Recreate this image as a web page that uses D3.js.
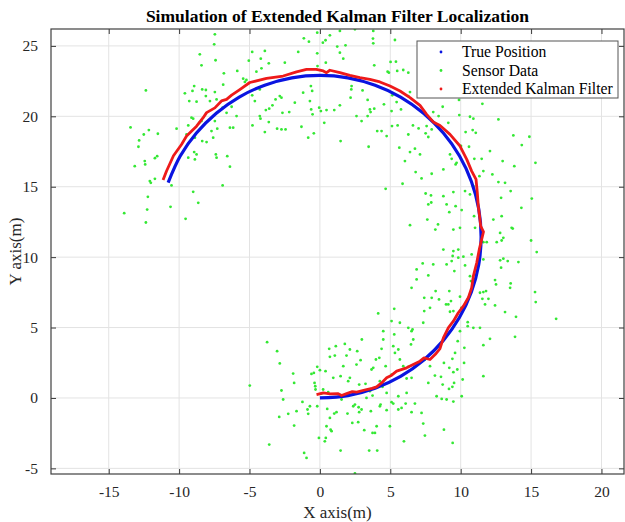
<!DOCTYPE html>
<html lang="en">
  <head>
    <meta charset="utf-8">
    <title>EKF Localization</title>
    <script src="https://cdn.jsdelivr.net/npm/d3@7"></script>
    <style>
    body{margin:0;background:#fff;}
    svg text{font-family:"Liberation Serif","Times New Roman",serif;fill:#262626;}
    .grid line{stroke:#e3e3e3;stroke-width:1;}
    .axis path{display:none;}
    .axis line{stroke:#3a3a3a;}
    .axis text{font-size:15.5px;fill:#262626;}
    </style>
  </head>
  <body>
    <svg></svg>
    <script>
      var xTicks=[-15,-10,-5,0,5,10,15,20];
      var yTicks=[-5,0,5,10,15,20,25];
      var legendLabels=["True Position","Sensor Data","Extended Kalman Filter"];

      // true path
      var truePos=[[0,0],[1.99,0.17],[3.92,0.69],[5.73,1.53],[7.36,2.68],[8.77,4.09],[9.92,5.73],
        [10.76,7.53],[11.28,9.46],[11.45,11.45],[11.28,13.44],[10.76,15.37],[9.92,17.18],[8.77,18.81],
        [7.36,20.22],[5.73,21.37],[3.92,22.21],[1.99,22.73],[0,22.9],[-1.99,22.73],[-3.92,22.21],
        [-5.73,21.37],[-7.36,20.22],[-8.77,18.81],[-9.92,17.18],[-10.78,15.29]];

      var ekfPos=[[-0.24,0.24],[0.24,0.36],[0.71,0.29],[1.3,0.31],[1.54,0.17],[1.9,0.31],[2.3,0.45],[2.61,0.41],
        [3.32,0.6],[3.7,0.68],[4.03,0.79],[4.38,1.07],[4.74,1.43],[5.1,1.62],[5.45,1.9],[6.16,2.14],[6.63,2.37],
        [7.11,2.61],[7.4,2.85],[7.82,2.73],[8.2,3.1],[8.53,3.5],[8.77,4.27],[9.12,4.98],[9.48,5.45],[9.83,6.05],
        [10.19,6.52],[10.54,7.11],[10.78,7.83],[10.9,8.65],[11.14,9.6],[11.32,10.55],[11.49,11.26],[11.62,11.8],
        [11.42,12.2],[11.37,12.68],[11.25,13.62],[11.18,14.58],[11.09,15.52],[10.78,16.11],[10.43,16.94],
        [9.95,17.89],[9.24,18.72],[8.53,19.35],[8.05,19.6],[7.58,20.14],[7.11,20.78],[6.4,21.33],[5.69,21.8],
        [4.98,22.15],[4.26,22.44],[3.55,22.63],[2.84,22.75],[2.13,22.9],[1.42,23.1],[0.71,23.27],[0.47,23.1],
        [0.24,23.22],[-0.26,23.34],[-0.95,23.34],[-1.66,23.15],[-2.61,22.86],[-3.79,22.7],[-4.98,22.4],
        [-5.69,21.9],[-6.27,21.5],[-6.63,21.2],[-6.99,21.09],[-7.46,20.6],[-8.05,20.26],[-8.29,19.9],
        [-8.76,19.3],[-9.47,18.6],[-9.83,18.0],[-10.4,17.2],[-10.9,16.1],[-11.14,15.47]];

      var sensorData=[
        [-7.46,25.82],[-7.51,25.11],[-8.53,24.4],[-8.41,23.62],[-7.41,23.98],[-6.82,23.05],[-5.87,23.22],[-6.87,22.25],
        [-8.93,22.15],[-9.59,21.63],[-9.05,21.8],[-8.36,21.91],[-8.1,21.87],[-7.46,21.72],[-8.1,21.44],[-9.28,21.08],
        [-8.76,21.04],[-7.81,21.08],[-7.34,21.2],[-12.36,21.84],[-9.12,19.9],[-9.0,19.83],[-9.35,19.35],[-8.57,19.54],
        [-8.41,19.66],[-7.46,19.66],[-6.91,20.61],[-6.63,20.25],[-6.27,20.68],[-5.92,20.02],[-7.29,19.12],[-7.7,18.95],
        [-6.39,19.19],[-6.16,19.19],[-7.58,18.48],[-8.05,18.17],[-8.36,18.24],[-8.88,18.48],[-10.18,19.12],[-9.47,18.71],
        [-13.45,19.21],[-12.15,19.02],[-12.51,18.71],[-11.51,18.76],[-12.84,18.29],[-12.89,17.84],[-13.15,16.46],
        [-12.44,16.82],[-12.41,16.58],[-11.56,17.17],[-11.72,17.03],[-12.08,15.4],[-12.01,15.28],[-10.54,15.09],
        [-11.72,15.56],[-8.93,17.46],[-8.76,17.29],[-8.88,16.94],[-9.35,17.06],[-7.39,17.29],[-7.34,17.06],[-6.58,17.17],
        [-6.39,16.42],[-6.91,15.09],[-9.0,14.64],[-8.64,13.86],[-12.22,14.28],[-10.61,13.57],[-12.27,13.38],[-13.9,13.12],
        [-12.36,12.46],[-9.54,12.72],
        [-0.19,25.94],[0.71,25.75],[1.42,26.06],[2.49,26.18],[3.79,26.06],[3.77,25.52],[3.79,25.18],[5.33,25.42],
        [-1.14,25.54],[-0.78,25.3],[0.21,25.23],[0.4,25.4],[1.23,24.95],[1.82,25.04],[1.42,24.52],[-4.81,24.57],
        [-3.91,24.64],[-5.05,23.95],[-4.2,24.09],[-3.63,23.76],[-4.51,23.17],[-4.15,23.41],[-2.49,23.81],[-1.54,24.57],
        [-0.19,24.47],[-0.17,23.57],[0.42,23.81],[1.66,24.09],[3.86,23.62],[5.02,23.86],[5.4,23.88],[5.49,23.22],
        [4.81,23.17],[4.9,23.1],[5.92,23.29],[6.28,23.1],[-5.45,22.67],[-5.33,22.44],[-5.22,22.58],[-4.27,21.91],
        [-2.85,21.44],[-2.73,21.32],[-3.15,21.2],[-4.62,21.08],[-3.37,20.78],[-3.84,20.44],[-3.6,20.54],[-1.19,21.68],
        [-0.64,22.15],[-0.55,21.8],[-0.71,21.08],[-2.18,20.3],[-2.66,20.25],[-1.78,20.97],[-0.62,20.49],[-0.52,20.14],
        [-0.05,20.61],[0.07,20.37],[0.47,20.44],[1.02,20.44],[1.42,20.78],[2.25,22.15],[2.23,21.91],[3.03,21.84],
        [2.18,21.32],[3.39,21.16],[3.55,20.49],[3.6,20.3],[3.86,20.54],[2.6,20.02],[3.39,20.02],[2.96,19.66],
        [4.55,20.85],[5.09,20.37],[5.14,21.49],[5.45,21.01],[6.4,21.72],[6.28,21.44],[5.76,20.49],[-4.81,21.49],
        [-4.79,19.35],[-4.22,19.83],[-4.27,20.02],[-3.63,19.59],[-3.91,18.88],[-3.04,19.12],[-2.73,19.07],[-2.44,19.07],
        [-1.31,19.26],[-0.83,18.48],[-0.43,18.79],[0.31,19.54],[1.47,18.24],[3.46,17.84],[4.07,18.95],[4.38,18.95],
        [4.74,18.6],[5.12,19.31],[5.52,19.35],[5.64,17.77],[6.28,18.71],[6.4,17.46],[6.61,19.35],[6.75,17.7],
        [7.11,17.29],[7.01,19.14],[7.51,18.79],[7.7,18.53],[7.94,19.07],[8.05,20.3],[8.43,20.02],[7.58,19.31],
        [6.04,16.82],[6.8,16.04],[7.22,15.59],[7.94,15.92],[5.87,15.21],[4.67,14.85],[7.51,14.52],[7.89,14.38],
        [7.7,13.74],[7.91,13.88],[6.4,12.27],[7.63,12.67],[8.39,12.32],[8.2,11.96],
        [8.72,20.68],[9.88,21.16],[11.54,20.89],[9.9,20.09],[10.66,19.97],[10.9,19.83],[12.68,19.78],[9.12,19.54],
        [10.35,18.88],[10.85,19.02],[11.07,18.83],[10.02,17.89],[10.59,17.84],[13.74,18.64],[14.88,18.55],[14.34,17.96],
        [12.08,17.53],[9.24,17.29],[9.36,16.98],[9.71,16.7],[9.64,16.58],[10.97,16.98],[11.49,16.98],[12.98,16.82],
        [13.81,16.46],[15.31,16.7],[11.61,16.11],[11.33,15.75],[12.25,15.87],[8.77,16.23],[12.68,15.33],[13.15,15.28],
        [10.9,15.04],[9.48,14.62],[10.31,14.69],[10.66,14.45],[13.55,14.69],[8.77,14.33],[15.05,14.16],[12.87,14.21],
        [9.0,13.74],[9.64,13.62],[10.07,13.34],[10.95,12.91],[12.91,12.91],[14.31,13.5],[9.95,12.08],[11.02,12.08],
        [12.32,12.67],[12.8,11.72],[13.03,11.37],[13.62,12.08],[13.7,12.03],[15.0,11.18],[11.61,11.06],[11.85,11.06],
        [12.56,11.06],[12.91,11.18],[8.77,10.54],[9.83,10.54],[9.19,13.19],[9.48,11.96],
        [-3.75,3.96],[-3.04,3.32],[-2.85,2.45],[-1.9,1.73],[-1.83,1.07],[-4.98,0.88],[-2.73,0.53],[-2.61,-0.11],
        [-1.24,-0.28],[-1.66,-0.94],[-2.25,-1.13],[-2.89,-1.35],[-1.83,-1.96],[-3.6,-3.31],[-1.12,-3.9],[-0.95,-4.26],
        [-0.6,1.71],[-0.43,1.78],[-0.19,2.21],[-0.38,1.07],[-0.33,0.83],[-0.31,0.6],[-0.71,-0.59],[-0.88,-0.82],
        [-0.83,-1.13],[0.0,1.97],[0.4,1.9],[0.66,3.49],[0.71,2.92],[1.13,3.68],[1.06,3.01],[1.77,3.84],
        [1.89,3.01],[2.13,3.44],[2.65,3.32],[2.89,2.68],[2.98,4.15],[2.6,2.37],[1.66,2.26],[1.47,1.55],
        [0.95,1.43],[0.23,0.6],[0.59,0.41],[2.01,1.19],[2.13,1.43],[2.79,0.95],[3.24,1.0],[3.67,2.02],
        [3.79,2.14],[3.98,2.73],[4.22,2.85],[4.38,3.49],[4.5,4.15],[4.67,2.26],[5.28,4.51],[5.21,3.68],
        [5.33,3.2],[5.68,2.73],[4.5,4.74],[5.68,5.34],[6.28,4.98],[6.51,4.74],[6.58,4.86],[6.63,4.15],
        [6.47,3.8],[5.57,3.44],[5.92,2.26],[6.28,2.21],[6.51,1.43],[6.16,1.38],[5.09,1.66],[4.14,6.0],
        [5.09,5.46],[5.28,6.33],[-0.19,-0.59],[0.12,0.31],[0.52,-0.78],[1.02,-1.11],[1.18,-1.01],[1.54,-0.11],
        [1.96,-1.11],[2.37,-0.59],[2.49,-0.47],[2.75,-0.66],[2.79,-1.01],[2.3,-1.77],[2.72,-1.72],[3.15,-2.29],
        [3.74,-2.48],[3.91,-2.48],[4.26,-0.59],[4.31,-0.47],[4.74,-0.87],[5.09,-0.3],[5.21,-0.4],[5.57,-0.82],
        [5.8,-0.71],[6.09,-0.4],[6.51,-1.01],[6.75,-0.4],[7.22,-1.06],[7.34,-1.82],[7.46,-2.67],[5.97,-3.08],
        [4.97,-2.01],[3.5,-3.74],[4.07,-3.74],[1.47,-3.74],[4.26,1.19],[4.45,0.79],[4.74,0.36],[5.57,0.12],
        [6.16,0.36],[0.71,-1.42],[0.76,-2.25],[0.83,-2.36],[0.42,-2.84],[0.35,-3.08],[-0.07,-2.84],[0.47,-2.01],
        [4.03,-2.01],[3.62,-0.94],[2.49,-5.35],[3.55,0.48],[3.74,0.17],[3.31,0.0],[2.96,-0.82],[8.17,1.59],
        [8.29,0.12],[7.7,1.07],[7.82,2.26],[7.46,2.73],[6.51,7.82],[7.3,9.55],[8.05,9.48],[6.87,9.13],
        [7.7,8.7],[8.22,7.59],[7.94,7.11],[7.41,7.11],[8.46,7.0],[7.34,5.34],[7.82,6.4],[6.87,8.42],[7.41,6.17],
        [15.4,10.36],[9.48,10.43],[9.43,10.08],[9.83,9.96],[10.19,10.03],[10.78,10.19],[9.0,9.48],[9.36,9.72],
        [10.31,9.41],[11.61,9.84],[12.8,9.77],[13.03,9.89],[13.34,9.72],[14.1,9.65],[12.87,9.25],[9.55,9.01],
        [9.19,7.59],[8.96,6.64],[9.12,6.64],[9.31,6.88],[9.24,6.12],[9.48,6.17],[9.95,7.19],[10.05,6.4],
        [10.66,8.65],[10.73,8.3],[12.44,8.37],[12.51,8.06],[13.55,8.13],[13.51,7.82],[11.37,7.47],[11.61,7.52],
        [11.8,7.59],[11.54,7.04],[11.97,7.04],[11.73,6.64],[12.44,6.57],[13.15,6.1],[13.93,5.76],[15.28,7.52],
        [15.33,6.81],[16.78,5.62],[9.95,4.74],[10.5,5.38],[10.5,5.1],[10.9,4.98],[11.37,4.98],[12.08,4.2],
        [11.61,3.75],[13.86,4.34],[9.79,4.03],[10.26,3.56],[9.6,3.2],[9.41,2.78],[10.24,2.49],[8.81,2.49],
        [9.19,2.14],[9.48,1.83],[9.76,2.02],[8.6,1.5],[10.14,1.31],[11.61,1.55],[9.53,1.07],[9.41,0.79],
        [9.17,0.64],[8.72,0.95],[8.65,-0.07],[9.0,-0.11],[9.48,-0.26],[10.07,0.12],[8.81,-2.25],[9.43,-3.19]
      ];

      var width=625, height=522;
      var margin={left:51, right:1, top:29, bottom:48};
      var plotW=width-margin.left-margin.right;
      var plotH=height-margin.top-margin.bottom;

      var svg=d3.select("svg")
                .attr("width",width)
                .attr("height",height);

      var xscale=d3.scaleLinear()
                   .domain([-19.1,21.6])
                   .range([margin.left,margin.left+plotW]);
      var yscale=d3.scaleLinear()
                   .domain([-5.4,26.2])
                   .range([margin.top+plotH,margin.top]);

      // plain hyphen minus like the original
      var tickText=function(d){return String(d);};

      svg.append("defs").append("clipPath").attr("id","plotclip")
         .append("rect")
         .attr("x",margin.left).attr("y",margin.top)
         .attr("width",plotW).attr("height",plotH);

      // grid
      svg.append("g").attr("class","grid")
         .selectAll("line.gx").data(xTicks).enter().append("line")
         .attr("x1",function(d){return xscale(d);})
         .attr("x2",function(d){return xscale(d);})
         .attr("y1",margin.top).attr("y2",margin.top+plotH);
      svg.append("g").attr("class","grid")
         .selectAll("line.gy").data(yTicks).enter().append("line")
         .attr("y1",function(d){return yscale(d);})
         .attr("y2",function(d){return yscale(d);})
         .attr("x1",margin.left).attr("x2",margin.left+plotW);

      var plot=svg.append("g").attr("clip-path","url(#plotclip)");

      plot.append("g")
          .selectAll("circle")
          .data(sensorData)
          .enter()
          .append("circle")
          .attr("cx",function(d){return xscale(d[0]);})
          .attr("cy",function(d){return yscale(d[1]);})
          .attr("r",1.4)
          .attr("fill","#34e834");

      var line=d3.line()
                 .x(function(d){return xscale(d[0]);})
                 .y(function(d){return yscale(d[1]);});

      plot.append("path")
          .datum(truePos)
          .attr("d",line.curve(d3.curveCatmullRom))
          .attr("fill","none")
          .attr("stroke","#0a14e0")
          .attr("stroke-width",3.2);

      plot.append("path")
          .datum(ekfPos)
          .attr("d",line.curve(d3.curveLinear))
          .attr("fill","none")
          .attr("stroke","#ee1a1a")
          .attr("stroke-width",2.8)
          .attr("stroke-linejoin","round");

      // axes with inward ticks on all four sides
      svg.append("g").attr("class","axis")
         .attr("transform","translate(0,"+(margin.top+plotH)+")")
         .call(d3.axisBottom(xscale).tickValues(xTicks).tickSize(-5).tickPadding(12).tickFormat(tickText));
      svg.append("g").attr("class","axis")
         .attr("transform","translate("+margin.left+",0)")
         .call(d3.axisLeft(yscale).tickValues(yTicks).tickSize(-5).tickPadding(13).tickFormat(tickText));
      svg.append("g").attr("class","axis")
         .attr("transform","translate(0,"+margin.top+")")
         .call(d3.axisTop(xscale).tickValues(xTicks).tickSize(-5).tickFormat(""));
      svg.append("g").attr("class","axis")
         .attr("transform","translate("+(margin.left+plotW)+",0)")
         .call(d3.axisRight(yscale).tickValues(yTicks).tickSize(-5).tickFormat(""));

      svg.append("rect")
         .attr("x",margin.left).attr("y",margin.top)
         .attr("width",plotW).attr("height",plotH)
         .attr("fill","none")
         .attr("stroke","#404040")
         .attr("stroke-width",1.2);

      svg.append("text")
         .attr("x",margin.left+plotW/2)
         .attr("y",22)
         .attr("text-anchor","middle")
         .style("font-size","17.5px")
         .style("font-weight","bold")
         .style("fill","#000")
         .text("Simulation of Extended Kalman Filter Localization");

      svg.append("text")
         .attr("x",margin.left+plotW/2)
         .attr("y",518)
         .attr("text-anchor","middle")
         .style("font-size","17px")
         .text("X axis(m)");

      svg.append("text")
         .attr("transform","translate(21,"+(margin.top+plotH/2)+") rotate(-90)")
         .attr("text-anchor","middle")
         .style("font-size","17px")
         .text("Y axis(m)");

      // legend
      var legendColors=["#0a14e0","#34e834","#ee1a1a"];
      var lg=svg.append("g").attr("transform","translate(417,41)");
      lg.append("rect")
        .attr("width",201).attr("height",57)
        .attr("fill","#fff")
        .attr("stroke","#555")
        .attr("stroke-width",1);
      var items=lg.selectAll("g.item")
                  .data(legendLabels)
                  .enter()
                  .append("g")
                  .attr("transform",function(d,i){return "translate(0,"+(11+i*18.5)+")";});
      items.append("circle")
           .attr("cx",24).attr("cy",0).attr("r",1.4)
           .attr("fill",function(d,i){return legendColors[i];});
      items.append("text")
           .attr("x",45).attr("y",5)
           .style("font-size","15.7px")
           .style("fill","#000")
           .text(function(d){return d;});
    </script>
  </body>
</html>
